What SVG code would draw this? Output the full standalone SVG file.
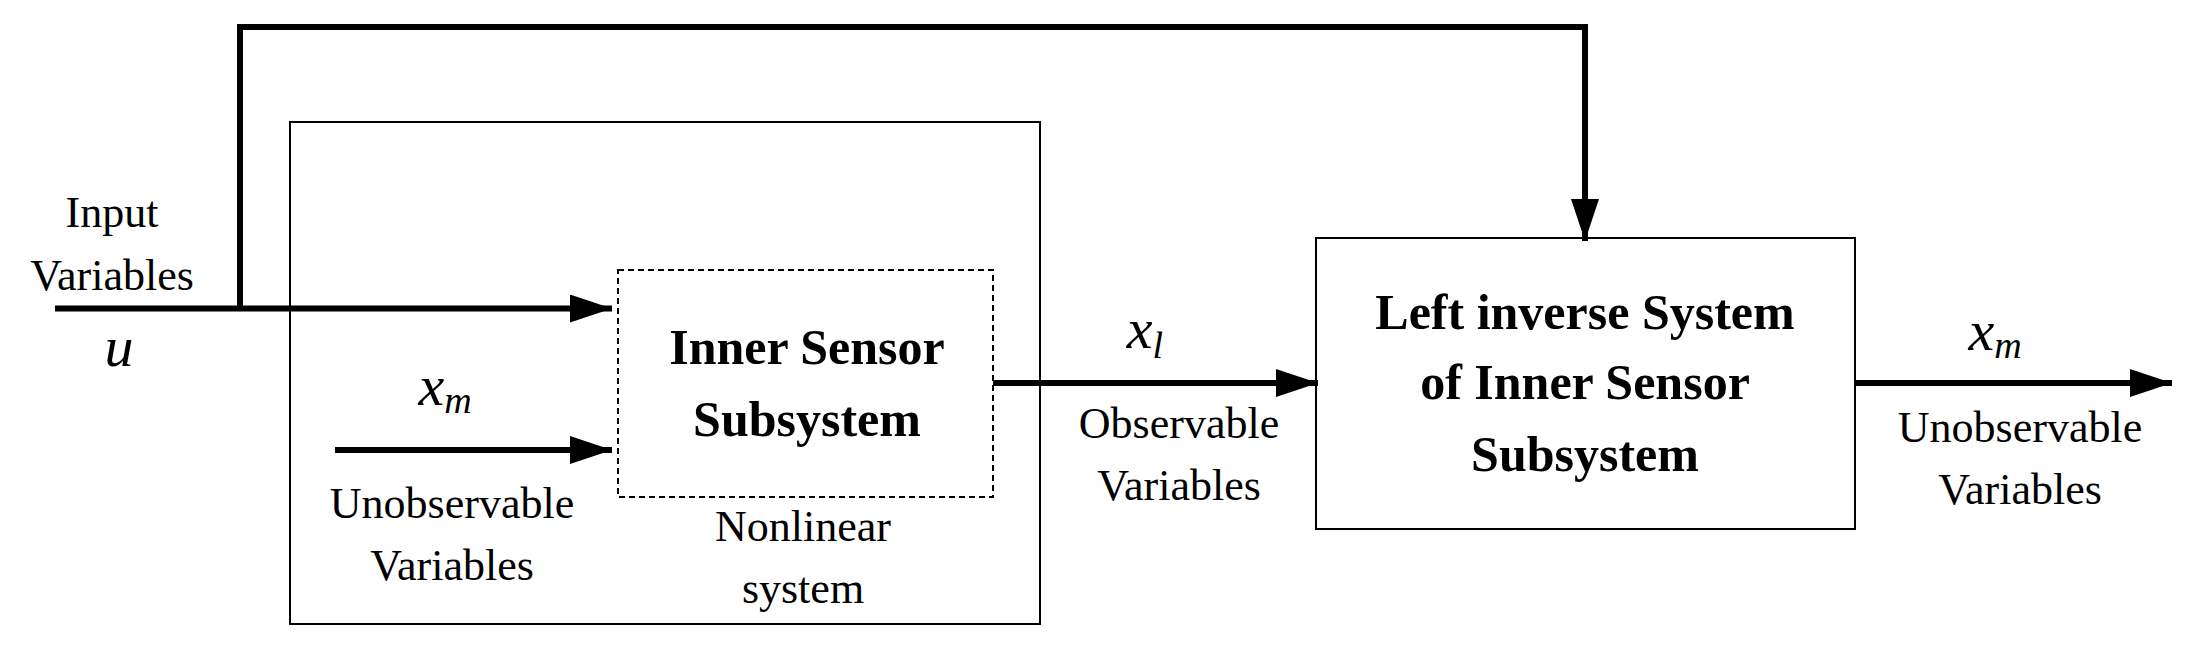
<svg xmlns="http://www.w3.org/2000/svg" width="2185" height="645" viewBox="0 0 2185 645">
<style>
text{font-family:"Liberation Serif","Times New Roman",serif;text-anchor:middle;fill:#000}
.t{font-size:44px}
.b{font-size:50px;font-weight:bold}
.m{font-size:58px;font-style:italic}
.s{font-size:38px;font-style:italic}
.box{fill:#fff;stroke:#000;stroke-width:2}
.w{fill:none;stroke:#000;stroke-width:6}
</style>
<defs><marker id="a" markerUnits="userSpaceOnUse" markerWidth="44" markerHeight="30" refX="42" refY="14" orient="auto"><path d="M0,0L42,14L0,28z" fill="#000"/></marker></defs>
<g id="nonlinear"><rect class="box" x="290" y="122" width="750" height="502"/>
<text class="t" x="803" y="541">Nonlinear</text><text class="t" x="803" y="603">system</text></g>
<g id="inner"><rect x="618" y="270" width="375" height="227" fill="#fff" stroke="#000" stroke-width="2" stroke-dasharray="6,4"/>
<text class="b" x="807" y="364">Inner Sensor</text><text class="b" x="807" y="436">Subsystem</text></g>
<g id="leftinv"><rect class="box" x="1316" y="238" width="539" height="291"/>
<text class="b" x="1585" y="329">Left inverse System</text><text class="b" x="1585" y="399">of Inner Sensor</text><text class="b" x="1585" y="471">Subsystem</text></g>
<g id="connectors">
<path class="w" d="M55,308.5H612" marker-end="url(#a)"/>
<path class="w" d="M240,308.5V27H1585V241" marker-end="url(#a)"/>
<path class="w" d="M335,450H612" marker-end="url(#a)"/>
<path class="w" d="M993,383H1318" marker-end="url(#a)"/>
<path class="w" d="M1855,383H2172" marker-end="url(#a)"/>
</g>
<g id="labels">
<text class="t" x="112" y="227">Input</text><text class="t" x="112" y="290">Variables</text>
<text class="m" x="119" y="366">u</text>
<text class="m" x="445" y="405">x<tspan class="s" dy="8">m</tspan></text>
<text class="t" x="452" y="518">Unobservable</text><text class="t" x="452" y="580">Variables</text>
<text class="m" x="1145" y="348">x<tspan class="s" dy="10">l</tspan></text>
<text class="t" x="1179" y="438">Observable</text><text class="t" x="1179" y="500">Variables</text>
<text class="m" x="1995" y="350">x<tspan class="s" dy="8">m</tspan></text>
<text class="t" x="2020" y="442">Unobservable</text><text class="t" x="2020" y="504">Variables</text>
</g>
</svg>
